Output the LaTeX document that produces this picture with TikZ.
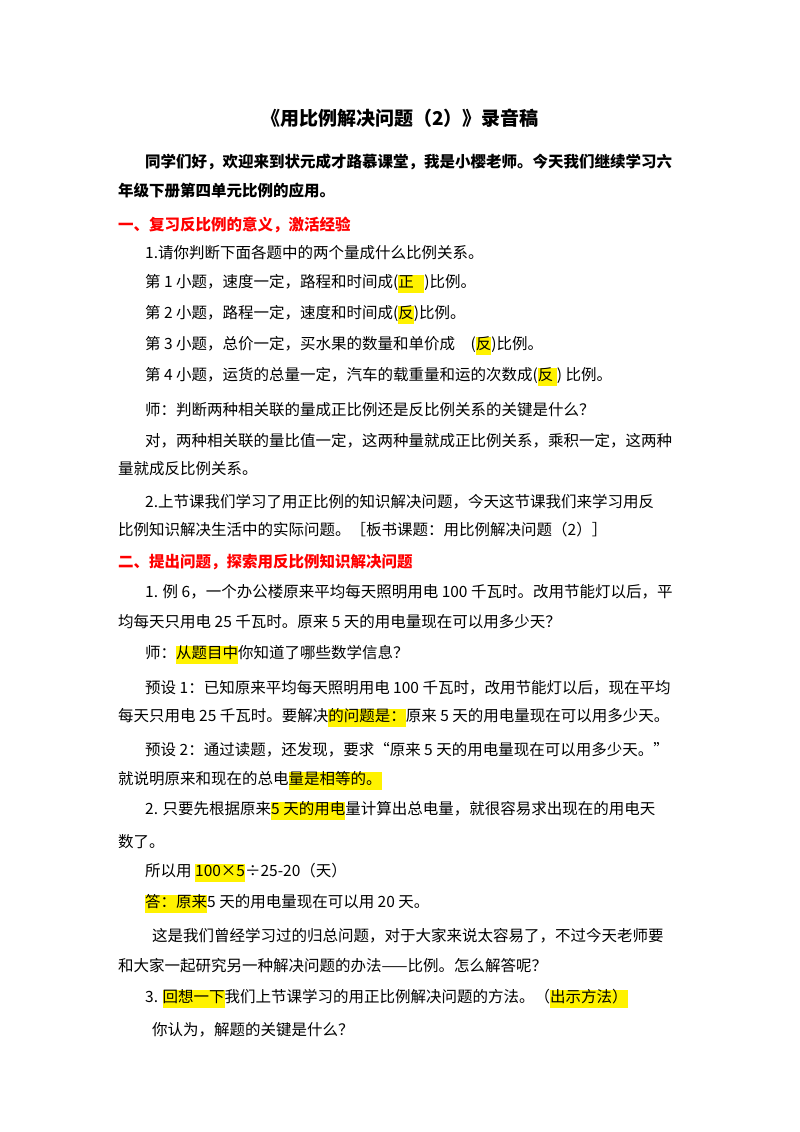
\documentclass[tikz,border=0pt]{standalone}
\usepackage{fontspec}
\setmainfont{Noto Sans CJK SC}
\newcommand{\hl}[1]{{\setlength{\fboxsep}{0pt}\colorbox{yellow}{\strut #1}}}
\begin{document}
\begin{tikzpicture}[x=1pt,y=-1pt,
  ln/.style={anchor=west,inner sep=0pt,font=\fontsize{15.5}{18}\selectfont},
  rd/.style={ln,text=red,font=\fontsize{15.5}{18}\selectfont\bfseries}]
\useasboundingbox (0,0) rectangle (800,1132);
\fill[white] (0,0) rectangle (800,1132);
\node[inner sep=0pt,font=\fontsize{19}{22}\selectfont\bfseries] (t) at (400,118) {《用比例解决问题（2）》录音稿};
\node[ln,font=\fontsize{15.5}{18}\selectfont\bfseries] (l1) at (145,162) {同学们好，欢迎来到状元成才路慕课堂，我是小樱老师。今天我们继续学习六};
\node[ln,font=\fontsize{15.5}{18}\selectfont\bfseries] (l2) at (118,191) {年级下册第四单元比例的应用。};
\node[rd] (l3) at (118,225) {一、复习反比例的意义，激活经验};
\node[ln] (l4) at (145,253) {1.请你判断下面各题中的两个量成什么比例关系。};
\node[ln] (l5) at (145,284) {第 1 小题，速度一定，路程和时间成(\hl{正\ \ \ })比例。};
\node[ln] (l6) at (145,315) {第 2 小题，路程一定，速度和时间成(\hl{反})比例。};
\node[ln] (l7) at (145,346) {第 3 小题，总价一定，买水果的数量和单价成\quad (\hl{反})比例。};
\node[ln] (l8) at (145,377) {第 4 小题，运货的总量一定，汽车的载重量和运的次数成(\hl{反\ }) 比例。};
\node[ln] (l9) at (145,410) {师：判断两种相关联的量成正比例还是反比例关系的关键是什么？};
\node[ln] (l10) at (145,441) {对，两种相关联的量比值一定，这两种量就成正比例关系，乘积一定，这两种};
\node[ln] (l11) at (118,469) {量就成反比例关系。};
\node[ln] (l12) at (145,502) {2.上节课我们学习了用正比例的知识解决问题，今天这节课我们来学习用反};
\node[ln] (l13) at (118,530) {比例知识解决生活中的实际问题。［板书课题：用比例解决问题（2）］};
\node[rd] (l14) at (118,562) {二、提出问题，探索用反比例知识解决问题};
\node[ln] (l15) at (145,592) {1. 例 6，一个办公楼原来平均每天照明用电 100 千瓦时。改用节能灯以后，平};
\node[ln] (l16) at (118,622) {均每天只用电 25 千瓦时。原来 5 天的用电量现在可以用多少天？};
\node[ln] (l17) at (145,655) {师：\hl{从题目中}你知道了哪些数学信息？};
\node[ln] (l18) at (145,688) {预设 1：已知原来平均每天照明用电 100 千瓦时，改用节能灯以后，现在平均};
\node[ln] (l19) at (118,718) {每天只用电 25 千瓦时。要解决\hl{的问题是：}原来 5 天的用电量现在可以用多少天。};
\node[ln] (l20) at (145,750) {预设 2：通过读题，还发现，要求“原来 5 天的用电量现在可以用多少天。”};
\node[ln] (l21) at (118,781) {就说明原来和现在的总电\hl{量是相等的。}};
\node[ln] (l22) at (145,811) {2. 只要先根据原来\hl{5 天的用电}量计算出总电量，就很容易求出现在的用电天};
\node[ln] (l23) at (118,842) {数了。};
\node[ln] (l24) at (145,873) {所以用 \hl{100×5}÷25-20（天）};
\node[ln] (l25) at (145,904) {\hl{答：原来}5 天的用电量现在可以用 20 天。};
\node[ln] (l26) at (152,936) {这是我们曾经学习过的归总问题，对于大家来说太容易了，不过今天老师要};
\node[ln] (l27) at (118,966) {和大家一起研究另一种解决问题的办法——比例。怎么解答呢？};
\node[ln] (l28) at (145,999) {3. \hl{回想一下}我们上节课学习的用正比例解决问题的方法。（\hl{出示方法）}};
\node[ln] (l29) at (152,1030) {你认为，解题的关键是什么？};
\end{tikzpicture}
\end{document}
